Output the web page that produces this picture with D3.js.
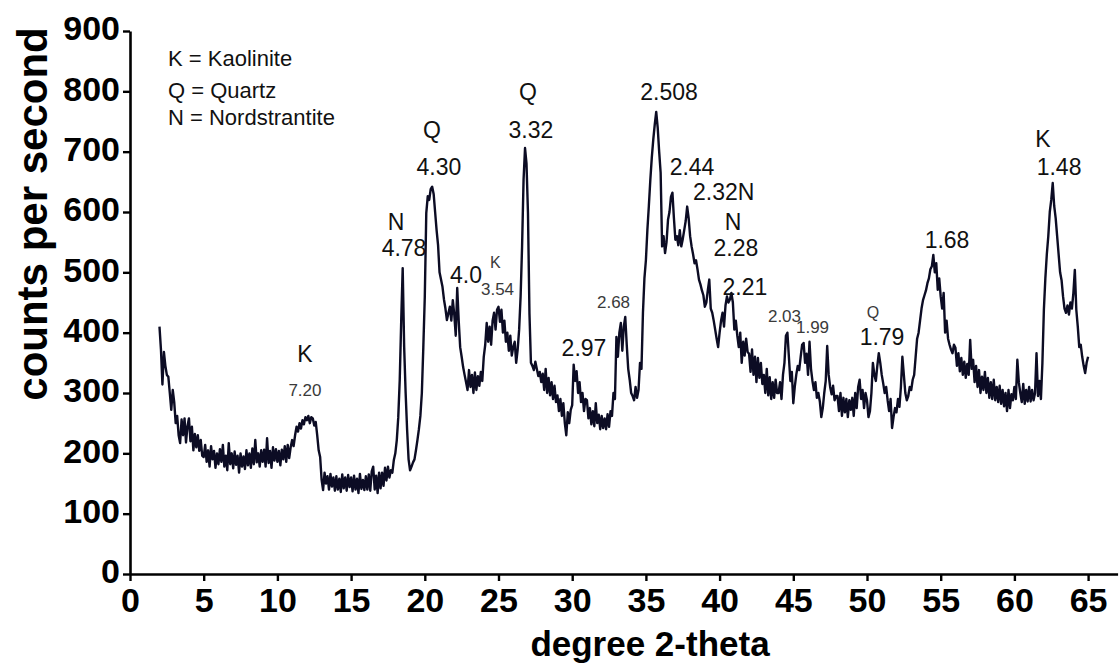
<!DOCTYPE html>
<html>
<head>
<meta charset="utf-8">
<script src="https://cdn.jsdelivr.net/npm/d3@7"></script>
<style>
  html, body { margin: 0; padding: 0; background: #fff; }
  svg { display: block; font-family: "Liberation Sans", Arial, sans-serif; }
</style>
</head>
<body>
<svg id="chart" width="1120" height="666"></svg>
<script>
// X-ray diffractogram: counts per second vs 2-theta, scanned 2.0–65.0 deg in 0.1 deg steps
const scanStart = 2.0;
const scanStep = 0.1;

// counts per second, ten readings per degree (2.0-2.9, 3.0-3.9, ...), last reading at 65.0
const counts = [
  410, 372, 314, 368, 345, 330, 327, 300, 272, 305,
  285, 250, 262, 230, 217, 256, 230, 258, 218, 245,
  258, 220, 244, 205, 232, 210, 230, 204, 222, 196,
  194, 214, 186, 205, 178, 212, 190, 204, 176, 200,
  182, 207, 186, 214, 178, 196, 172, 217, 182, 200,
  175, 203, 181, 196, 168, 200, 178, 195, 174, 205,
  180, 200, 176, 208, 182, 222, 185, 200, 178, 205,
  186, 206, 178, 225, 184, 204, 176, 210, 188, 207,
  186, 204, 180, 206, 190, 212, 186, 214, 192, 210,
  222, 212, 230, 244, 236, 250, 241, 255, 248, 260,
  255, 262, 250, 260, 258, 246, 252, 230, 205, 194,
  156, 139, 168, 150, 162, 140, 166, 145, 160, 138,
  162, 140, 158, 136, 165, 142, 160, 138, 164, 144,
  160, 137, 163, 140, 158, 134, 166, 141, 156, 139,
  162, 140, 165, 138, 170, 178, 140, 163, 134, 168,
  142, 168, 146, 176, 155, 178, 160, 172, 168, 189,
  200, 222, 260, 322, 420, 507, 376, 300, 239, 190,
  172, 178, 185, 190, 205, 222, 240, 262, 300, 376,
  460, 598, 626, 620, 638, 642, 630, 600, 570, 545,
  500, 488, 476, 455, 440, 421, 432, 443, 420, 454,
  430, 395, 474, 420, 376, 360, 343, 330, 318, 305,
  338, 310, 330, 300, 334, 305, 328, 312, 335, 320,
  360, 380, 416, 385, 410, 380, 420, 433, 405, 438,
  443, 418, 438, 400, 420, 385, 400, 370, 395, 362,
  376, 385, 350, 372, 405, 460, 543, 653, 706, 680,
  598, 432, 350, 345, 338, 352, 340, 328, 335, 318,
  332, 305, 340, 300, 325, 296, 318, 290, 312, 285,
  296, 270, 290, 262, 283, 250, 230, 268, 250, 272,
  280, 347, 320, 336, 300, 318, 285, 300, 270, 290,
  288, 258, 275, 248, 270, 245, 283, 250, 264, 240,
  262, 242, 258, 240, 265, 244, 270, 262, 300, 290,
  393, 360, 400, 416, 370, 410, 426, 380, 340, 322,
  300, 295, 288, 310, 292, 305, 350, 340, 433, 490,
  520, 570, 610, 653, 690, 720, 745, 766, 740, 700,
  665, 543, 560, 532, 550, 587, 600, 625, 632, 590,
  554, 560, 545, 570, 543, 555, 570, 585, 609, 590,
  560, 543, 530, 515, 520, 505, 488, 480, 470, 462,
  443, 450, 470, 488, 440, 433, 420, 405, 390, 376,
  400, 420, 433, 410, 445, 460, 450, 455, 466, 450,
  405, 420, 395, 376, 400, 350, 385, 362, 390, 368,
  365, 335, 372, 330, 360, 318, 358, 325, 350, 315,
  330, 300, 340, 296, 326, 290, 318, 292, 322, 300,
  300, 318, 290, 330, 350, 395, 400, 360, 320, 335,
  283, 310, 330, 345, 338, 360, 380, 383, 350, 365,
  330, 385, 340, 320, 305, 318, 292, 300, 286, 260,
  275, 300, 320, 378, 330, 310, 298, 312, 288, 295,
  295, 270, 300, 262, 292, 268, 290, 260, 288, 272,
  292, 262, 300, 275, 310, 322, 290, 305, 275, 300,
  288, 260, 270, 300, 350, 330, 320, 345, 366, 350,
  330, 316, 300, 310, 288, 270, 290, 242, 260, 275,
  268, 290, 277, 310, 360, 330, 300, 288, 295, 310,
  305, 322, 330, 360, 390, 400, 420, 440, 454, 462,
  470, 482, 490, 505, 510, 529, 500, 515, 471, 490,
  460, 440, 466, 400, 420, 390, 380, 372, 366, 380,
  375, 345, 366, 336, 358, 330, 352, 325, 348, 330,
  388, 340, 355, 318, 345, 310, 338, 300, 327, 305,
  335, 300, 325, 292, 318, 290, 322, 288, 310, 285,
  312, 282, 305, 278, 300, 270, 305, 275, 298, 288,
  310, 290, 355, 318, 300, 285, 315, 282, 305, 286,
  310, 286, 305, 288, 300, 366, 295, 320, 290, 350,
  438, 490, 530, 560, 600, 620, 648, 610, 590, 560,
  530, 500, 487, 460, 440, 433, 445, 430, 450, 440,
  465, 504, 438, 410, 376, 380, 360, 345, 333, 350,
  360
];

const xTicks = [0, 5, 10, 15, 20, 25, 30, 35, 40, 45, 50, 55, 60, 65];
const yTicks = [0, 100, 200, 300, 400, 500, 600, 700, 800, 900];

const legendLines = ["K = Kaolinite", "Q = Quartz", "N = Nordstrantite"];

// peak annotations: d-spacing / phase letters, anchored in (2-theta, counts)
const peakLabels = [
  { text: "K",     at: [11.87, 352], size: "big",   anchor: "middle" },
  { text: "7.20",  at: [11.87, 295], size: "small", anchor: "middle" },
  { text: "N",     at: [18.05, 570], size: "big",   anchor: "middle" },
  { text: "4.78",  at: [18.59, 527], size: "big",   anchor: "middle" },
  { text: "Q",     at: [20.49, 723], size: "big",   anchor: "middle" },
  { text: "4.30",  at: [20.96, 662], size: "big",   anchor: "middle" },
  { text: "4.0",   at: [21.71, 483], size: "big",   anchor: "start" },
  { text: "K",     at: [24.42, 507], size: "tiny",  anchor: "start" },
  { text: "3.54",  at: [23.81, 463], size: "small", anchor: "start" },
  { text: "Q",     at: [27.00, 786], size: "big",   anchor: "middle" },
  { text: "3.32",  at: [27.20, 723], size: "big",   anchor: "middle" },
  { text: "2.68",  at: [31.68, 441], size: "small", anchor: "start" },
  { text: "2.97",  at: [30.80, 361], size: "big",   anchor: "middle" },
  { text: "2.508", at: [36.57, 786], size: "big",   anchor: "middle" },
  { text: "2.44",  at: [38.13, 662], size: "big",   anchor: "middle" },
  { text: "2.32N", at: [38.20, 620], size: "big",   anchor: "start" },
  { text: "N",     at: [40.91, 570], size: "big",   anchor: "middle" },
  { text: "2.28",  at: [41.11, 527], size: "big",   anchor: "middle" },
  { text: "2.21",  at: [41.72, 463], size: "big",   anchor: "middle" },
  { text: "2.03",  at: [43.28, 418], size: "small", anchor: "start" },
  { text: "1.99",  at: [45.18, 400], size: "small", anchor: "start" },
  { text: "Q",     at: [50.41, 424], size: "tiny",  anchor: "middle" },
  { text: "1.79",  at: [51.02, 380], size: "big",   anchor: "middle" },
  { text: "1.68",  at: [55.43, 541], size: "big",   anchor: "middle" },
  { text: "K",     at: [61.94, 708], size: "big",   anchor: "middle" },
  { text: "1.48",  at: [63.03, 662], size: "big",   anchor: "middle" }
];

const labelStyle = {
  big:   { size: 23, fill: "#111" },
  small: { size: 17, fill: "#3a3a3a" },
  tiny:  { size: 16, fill: "#3a3a3a" }
};

const svg = d3.select("#chart");
const plotLeft = 130, plotTop = 31, plotBottom = 574;
const pxPerDeg = 14.74;

const x = d3.scaleLinear().domain([0, 67]).range([plotLeft, plotLeft + 67 * pxPerDeg]);
const y = d3.scaleLinear().domain([0, 900]).range([plotBottom, plotTop]);

const points = counts.map((c, i) => [scanStart + i * scanStep, c]);

// diffraction trace
svg.append("path")
  .datum(points)
  .attr("fill", "none")
  .attr("stroke", "#0c0c24")
  .attr("stroke-width", 2.4)
  .attr("stroke-linejoin", "round")
  .attr("d", d3.line().x(d => x(d[0])).y(d => y(d[1])));

// axes
const xAxis = svg.append("g")
  .attr("transform", `translate(0,${plotBottom})`)
  .call(d3.axisBottom(x).tickValues(xTicks).tickSize(7).tickSizeOuter(0).tickPadding(7).tickFormat(d3.format("d")));
const yAxis = svg.append("g")
  .attr("transform", `translate(${plotLeft},0)`)
  .call(d3.axisLeft(y).tickValues(yTicks).tickSize(7).tickSizeOuter(0).tickPadding(3).tickFormat(d3.format("d")));

[xAxis, yAxis].forEach(g => {
  g.select(".domain").attr("stroke", "#000").attr("stroke-width", 2.6);
  g.selectAll(".tick line").attr("stroke", "#000").attr("stroke-width", 2.4);
  g.selectAll(".tick text")
    .attr("fill", "#000")
    .attr("font-family", "'Liberation Sans', Arial, sans-serif")
    .attr("font-weight", "bold");
});
xAxis.selectAll(".tick text").attr("font-size", 34).attr("dy", "0.72em");
yAxis.selectAll(".tick text").attr("font-size", 34).attr("dy", "0.26em");

// axis titles
svg.append("text")
  .attr("x", 650).attr("y", 656)
  .attr("text-anchor", "middle")
  .attr("font-size", 35).attr("font-weight", "bold").attr("fill", "#000")
  .text("degree 2-theta");

svg.append("text")
  .attr("transform", "translate(47,214) rotate(-90)")
  .attr("text-anchor", "middle")
  .attr("font-size", 42).attr("font-weight", "bold").attr("fill", "#000")
  .text("counts per second");

// legend for phase letters
const legendBaselines = [66, 98, 125];
svg.append("g").selectAll("text")
  .data(legendLines)
  .join("text")
  .attr("x", 168)
  .attr("y", (d, i) => legendBaselines[i])
  .attr("font-size", 22)
  .attr("fill", "#111")
  .text(d => d);

// peak annotations
svg.append("g").selectAll("text")
  .data(peakLabels)
  .join("text")
  .attr("x", d => x(d.at[0]))
  .attr("y", d => y(d.at[1]))
  .attr("text-anchor", d => d.anchor)
  .attr("font-size", d => labelStyle[d.size].size)
  .attr("fill", d => labelStyle[d.size].fill)
  .text(d => d.text);
</script>
</body>
</html>
